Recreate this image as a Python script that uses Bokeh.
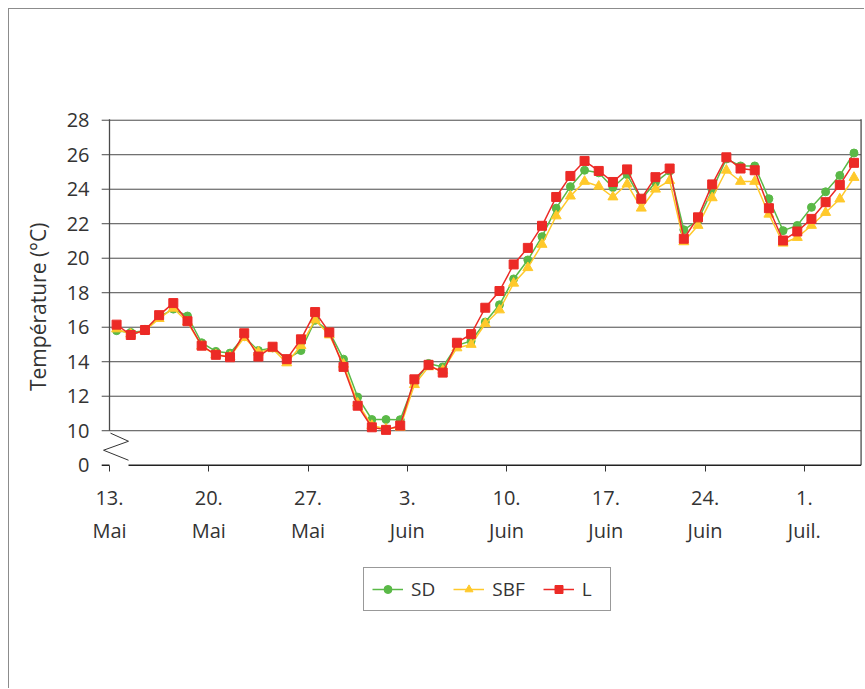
from bokeh.plotting import figure
from bokeh.models import Range1d, FixedTicker, LinearAxis, Legend, LegendItem, Title
from bokeh.embed import file_html
from bokeh.resources import INLINE

# day offset from 13 May (13 May .. 4 July)
days = list(range(53))
sd = [15.8, 15.7, 15.8, 16.6, 17.05, 16.65, 15.1, 14.6, 14.5, 15.45,
      14.65, 14.8, 14.15, 14.65, 16.4, 15.75, 14.15, 11.95, 10.65, 10.65,
      10.64, 12.8, 13.9, 13.7, 14.95, 15.2, 16.3, 17.3, 18.8, 19.9,
      21.25, 22.9, 24.15, 25.1, 24.95, 24.1, 24.85, 23.4, 24.4, 25.05,
      21.65, 22.2, 23.95, 25.75, 25.35, 25.35, 23.45, 21.6, 21.9, 22.95,
      23.85, 24.8, 26.1]
sbf = [15.9, 15.6, 15.8, 16.5, 17.1, 16.3, 14.9, 14.4, 14.3, 15.4,
       14.55, 14.75, 13.93, 14.93, 16.42, 15.55, 13.85, 11.6, 10.3, 10.1,
       10.2, 12.67, 13.7, 13.5, 14.8, 15.0, 16.2, 17.0, 18.55, 19.45,
       20.8, 22.45, 23.6, 24.45, 24.17, 23.55, 24.3, 22.9, 24.0, 24.5,
       20.95, 21.9, 23.5, 25.1, 24.45, 24.45, 22.55, 20.87, 21.2, 21.9,
       22.65, 23.43, 24.68]
l_vals = [16.15, 15.55, 15.84, 16.7, 17.4, 16.35, 14.93, 14.4, 14.26, 15.65,
          14.3, 14.87, 14.15, 15.3, 16.88, 15.7, 13.7, 11.45, 10.2, 10.05,
          10.3, 12.98, 13.82, 13.37, 15.1, 15.6, 17.13, 18.1, 19.64, 20.6,
          21.88, 23.55, 24.77, 25.64, 25.06, 24.42, 25.15, 23.45, 24.7, 25.2,
          21.13, 22.37, 24.28, 25.85, 25.2, 25.1, 22.9, 21.03, 21.55, 22.28,
          23.25, 24.25, 25.53]

x_ticks = [0, 7, 14, 21, 28, 35, 42, 49]
x_day_labels = ["13.", "20.", "27.", "3.", "10.", "17.", "24.", "1."]
x_month_labels = ["Mai", "Mai", "Mai", "Juin", "Juin", "Juin", "Juin", "Juil."]
y_ticks = [10, 12, 14, 16, 18, 20, 22, 24, 26, 28]
zero_pos = 8  # broken axis: value 0 drawn here
x_end = 53

xs = [d + 0.5 for d in days]

FONT = "Open Sans"
TXT = "#333333"
GRID = "#4a4a4a"
GREEN = "#5ab947"
YELLOW = "#ffc92b"
RED = "#ec2a26"

p = figure(width=856, height=680,
           x_range=Range1d(-1.34, 53.1), y_range=Range1d(-2.16, 28.1),
           output_backend="svg", toolbar_location=None,
           min_border_left=81, min_border_right=3,
           min_border_top=109, min_border_bottom=49)
p.styles = {"margin-left": "8px", "margin-top": "8px",
            "border-left": "1px solid #8c8c8c", "border-top": "1px solid #8c8c8c"}
p.outline_line_color = None
p.background_fill_color = "white"
p.border_fill_color = "white"
p.grid.visible = False

# y axis
ya = p.yaxis[0]
ya.ticker = FixedTicker(ticks=[zero_pos] + y_ticks)
ya.major_label_overrides = {zero_pos: "0"}
ya.axis_line_color = None
ya.major_tick_line_color = None
ya.major_tick_out = 0
ya.major_tick_in = 0
ya.minor_tick_line_color = None
ya.major_label_standoff = 1
ya.major_label_text_font = FONT
ya.major_label_text_font_size = "20px"
ya.major_label_text_color = TXT

ytitle = Title(text="Température (°C)", align="right", offset=104,
               text_font=FONT, text_font_size="21px", text_font_style="normal",
               text_color=TXT, standoff=23)
p.add_layout(ytitle, "left")

# x axis (days), drawn on the zero line
xa = p.xaxis[0]
xa.fixed_location = zero_pos
xa.ticker = FixedTicker(ticks=x_ticks)
xa.major_label_overrides = dict(zip(x_ticks, x_day_labels))
xa.axis_line_color = None
xa.major_tick_line_color = TXT
xa.major_tick_out = 6
xa.major_tick_in = 0
xa.minor_tick_line_color = None
xa.major_label_standoff = 20
xa.major_label_text_font = FONT
xa.major_label_text_font_size = "20px"
xa.major_label_text_color = TXT

# x axis (months)
xm = LinearAxis(ticker=FixedTicker(ticks=x_ticks), fixed_location=zero_pos)
xm.major_label_overrides = dict(zip(x_ticks, x_month_labels))
xm.axis_line_color = None
xm.major_tick_line_color = None
xm.major_tick_out = 0
xm.major_tick_in = 0
xm.minor_tick_line_color = None
xm.major_label_standoff = 52
xm.major_label_text_font = FONT
xm.major_label_text_font_size = "20px"
xm.major_label_text_color = TXT
p.add_layout(xm, "below")

# horizontal grid lines (with their short left ticks)
p.segment(x0=[-0.55] * len(y_ticks), y0=y_ticks, x1=[x_end] * len(y_ticks), y1=y_ticks,
          line_color=GRID, line_width=1)

# axis lines / frame pieces with the break
p.segment(x0=[0], y0=[10], x1=[0], y1=[28.05], line_color=GRID, line_width=1.3)
p.segment(x0=[x_end], y0=[zero_pos], x1=[x_end], y1=[28.05], line_color=GRID, line_width=1.3)
p.segment(x0=[-0.55, 1.34], y0=[zero_pos, zero_pos], x1=[0, x_end], y1=[zero_pos, zero_pos],
          line_color="#222222", line_width=1.3)
p.line(x=[0.07, 1.34, -0.42, 1.34], y=[9.86, 9.39, 8.87, 8.29], line_color="#333333", line_width=1)

# series
lr1 = p.line(xs, sd, line_color=GREEN, line_width=1.5)
sr1 = p.scatter(xs, sd, marker="circle", size=8, fill_color=GREEN, line_color=GREEN)
lr2 = p.line(xs, sbf, line_color=YELLOW, line_width=1.5)
sr2 = p.scatter(xs, sbf, marker="triangle", size=10, fill_color=YELLOW, line_color=YELLOW)
lr3 = p.line(xs, l_vals, line_color=RED, line_width=1.5)
sr3 = p.scatter(xs, l_vals, marker="square", size=9, fill_color=RED, line_color=RED)

legend = Legend(items=[LegendItem(label="SD", renderers=[lr1, sr1]),
                       LegendItem(label="SBF", renderers=[lr2, sr2]),
                       LegendItem(label="L", renderers=[lr3, sr3])],
                location=(273, 29), orientation="horizontal")
legend.label_text_font = FONT
legend.label_text_font_size = "19px"
legend.label_text_color = TXT
legend.glyph_width = 31
legend.glyph_height = 20
legend.label_standoff = 8
legend.spacing = 18
legend.padding = 8
legend.margin = 0
legend.border_line_color = "#333333"
legend.border_line_width = 1
legend.background_fill_alpha = 1
p.add_layout(legend, "center")

open("out.html", "w").write(file_html(p, INLINE))
